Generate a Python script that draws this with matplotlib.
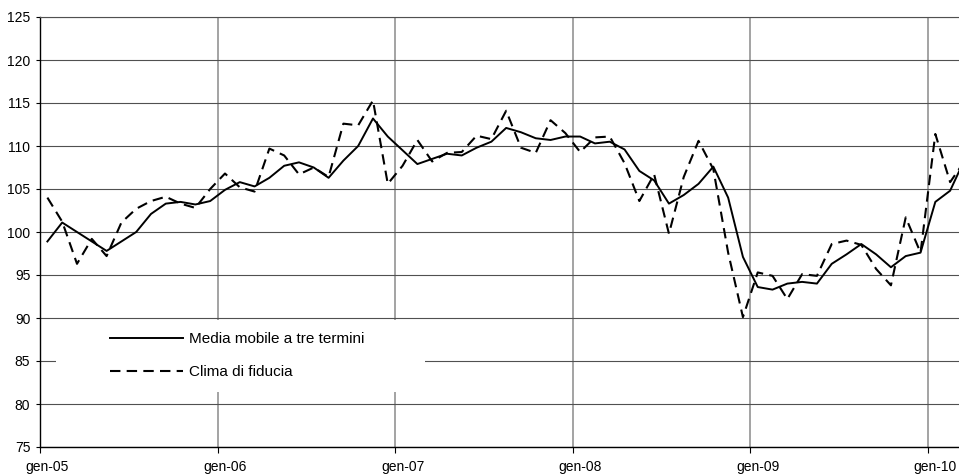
import numpy as np
import matplotlib
matplotlib.use("Agg")
import matplotlib.pyplot as plt
from matplotlib.patches import Rectangle

plt.rcParams['font.family'] = ['Liberation Sans', 'DejaVu Sans']

## DATA (monthly, gen-05 .. mar-10)

year_labels = ['gen-05', 'gen-06', 'gen-07', 'gen-08', 'gen-09', 'gen-10']

# Clima di fiducia (dashed)
clima = [104.0, 101.2, 96.3, 99.2, 97.2, 101.1, 102.7, 103.6, 104.1, 103.3, 102.8, 105.0,
         106.8, 105.2, 104.7, 109.7, 108.9, 106.7, 107.5, 106.4, 112.6, 112.4, 115.3, 105.6,
         107.7, 110.7, 108.2, 109.2, 109.3, 111.2, 110.8, 114.1, 109.8, 109.2, 113.0, 111.5,
         109.3, 111.0, 111.1, 108.0, 103.6, 106.7, 99.8, 106.4, 110.6, 107.3, 97.6, 90.1,
         95.3, 94.9, 92.2, 95.1, 94.9, 98.6, 99.0, 98.5, 95.7, 93.8, 101.7, 97.6,
         111.4, 105.8, 108.3]

# Media mobile a tre termini (solid)
media = [98.9, 101.1, 100.0, 98.9, 97.8, 98.9, 100.0, 102.1, 103.3, 103.5, 103.2, 103.6,
         104.9, 105.8, 105.3, 106.3, 107.7, 108.1, 107.5, 106.3, 108.3, 110.0, 113.2, 111.1,
         109.5, 107.9, 108.5, 109.1, 108.9, 109.8, 110.5, 112.1, 111.6, 110.9, 110.7, 111.1,
         111.1, 110.3, 110.5, 109.6, 107.1, 106.0, 103.3, 104.3, 105.6, 107.6, 104.0, 97.1,
         93.6, 93.3, 94.0, 94.2, 94.0, 96.3, 97.4, 98.6, 97.4, 95.9, 97.2, 97.6,
         103.5, 104.8, 108.5]

## PLOT

# points sit in the middle of each month
x = np.arange(len(media)) + 0.5
year_pos = np.arange(len(year_labels)) * 12

fig = plt.figure(figsize=(9.59, 4.75), dpi=100)
ax = fig.add_axes([40 / 959, 28 / 475, 919 / 959, 430 / 475])

ax.plot(x, media, color='black', lw=1.4, label='Media mobile a tre termini', zorder=3)
ax.plot(x, clima, color='black', lw=1.5, linestyle=(0, (5, 3)), label='Clima di fiducia', zorder=3)

ax.set_xlim(0, 62.1)
ax.set_ylim(75, 125)

# y axis
ax.set_yticks(np.arange(75, 126, 5))
ax.tick_params(axis='y', direction='out', length=3, width=0.8, labelsize=10, pad=4)

# x axis: ticks at the year start, labels centred on the month
ax.set_xticks(year_pos)
ax.set_xticklabels([])
ax.set_xticks(year_pos + 0.5, minor=True)
ax.set_xticklabels(year_labels, minor=True)
ax.tick_params(axis='x', which='major', direction='out', length=4, width=0.8)
ax.tick_params(axis='x', which='minor', length=0, labelsize=10, pad=9)

# grid
ax.grid(True, axis='y', color='#505050', lw=0.8)
ax.grid(True, axis='x', which='major', color='#8a8a8a', lw=1.1)
ax.set_axisbelow(True)

ax.spines['right'].set_visible(False)
ax.spines['top'].set_color('#505050')
ax.spines['top'].set_linewidth(0.8)
ax.spines['left'].set_linewidth(1.0)
ax.spines['bottom'].set_linewidth(1.0)

# white patch behind the legend hides the gridlines
ax.add_patch(Rectangle((16 / 919, 55 / 430), 369 / 919, 72 / 430, transform=ax.transAxes,
                       facecolor='white', edgecolor='none', zorder=2))
ax.legend(loc='upper left', bbox_to_anchor=(70 / 919, 115 / 430), frameon=False,
          borderpad=0, borderaxespad=0, handlelength=4.8, handletextpad=0.4,
          labelspacing=1.25, fontsize=11)

fig.savefig('out.png', dpi=100)
